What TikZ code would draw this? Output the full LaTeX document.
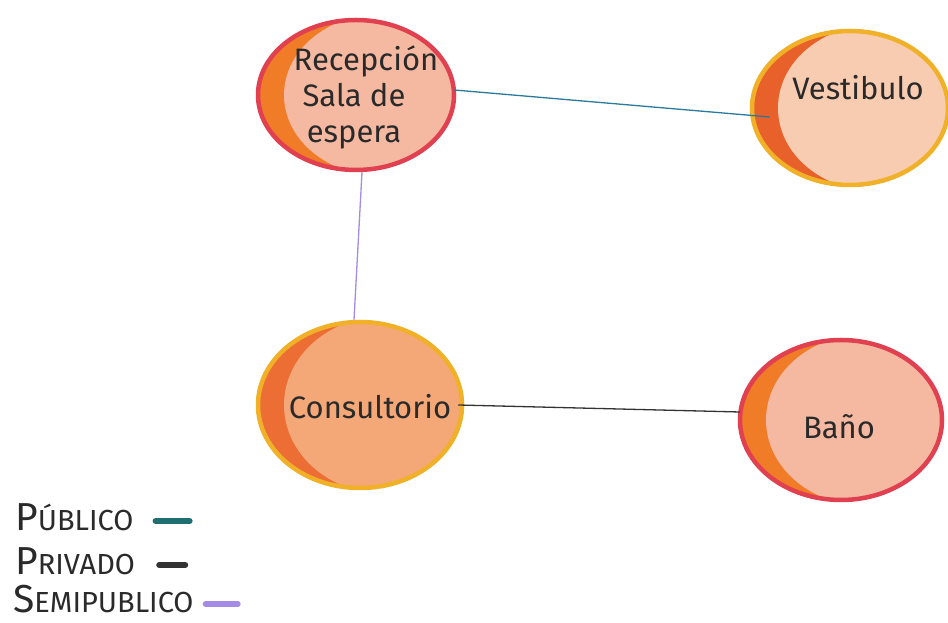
\documentclass[tikz,border=0pt]{standalone}
\usepackage{fontspec}
\setmainfont{Fira Sans}
\usetikzlibrary{shapes.geometric,calc}
\definecolor{redring}{HTML}{E0404F}
\definecolor{yelring}{HTML}{F0B028}
\definecolor{salmon}{HTML}{F5B9A2}
\definecolor{peach}{HTML}{F8CCB0}
\definecolor{orangefill}{HTML}{F4A878}
\definecolor{cresA}{HTML}{F07C28}
\definecolor{cresB}{HTML}{E8602A}
\definecolor{cresC}{HTML}{EC6E34}
\definecolor{pubcol}{HTML}{1F6E72}
\definecolor{bluecon}{HTML}{2A7A9A}
\definecolor{privcol}{HTML}{333333}
\definecolor{semicol}{HTML}{A48CE6}
\definecolor{ink}{HTML}{2A2A2A}
\tikzset{
  room/.style n args={5}{ellipse, draw=#1, line width=4.5pt, fill=#3,
    minimum width=#4, minimum height=#5, inner sep=0pt,
    path picture={\fill[#2] ([xshift=26pt]path picture bounding box.center)
      ellipse [x radius=0.5*#4, y radius=0.5*#5+6pt];}},
  roomtext/.style={align=center, text=ink, inner sep=0pt,
    font=\fontsize{31}{36}\selectfont},
  conn/.style={line width=1.3pt},
  legtext/.style={anchor=west, inner sep=0pt, text=ink},
  legbar/.style={line width=6pt, line cap=round}
}
\newcommand{\legbig}{\fontsize{39}{39}\selectfont}
\newcommand{\legsmall}{\fontsize{29}{29}\selectfont}
\begin{document}
\begin{tikzpicture}[x=1pt,y=1pt]
\useasboundingbox (0,0) rectangle (948,623);
\fill[white] (0,0) rectangle (948,623);
% rooms
\node[room={redring}{salmon}{cresA}{196pt}{150pt}] (rec) at (356,528) {};
\node[room={yelring}{peach}{cresB}{196pt}{154pt}] (ves) at (850,515) {};
\node[room={yelring}{orangefill}{cresC}{204pt}{166pt}] (con) at (360,218) {};
\node[room={redring}{salmon}{cresA}{202pt}{160pt}] (ban) at (841,203) {};
% room labels
\node[roomtext] (rect) at ($(rec.center)+(-2,-2)$)
  {\hspace*{24pt}Recepción\\Sala de\\espera};
\node[roomtext] (vest) at ($(ves.center)+(8,20)$) {Vestibulo};
\node[roomtext] (cont) at ($(con.center)+(10,-2)$) {Consultorio};
\node[roomtext] (bant) at ($(ban.center)+(-2,-7)$) {Baño};
% connectors
\draw[conn, bluecon] ($(rec.east)+(-2,5)$) -- ($(ves.west)+(20,-9)$);
\draw[conn, semicol] ($(rec.south)+(6,0)$) -- ($(con.north)+(-6,0)$);
\draw[conn, privcol] ($(con.east)+(-6,0)$) -- ($(ban.west)+(2,8)$);
% legend
\node[legtext] (pub) at (15,106) {{\legbig P}{\legsmall ÚBLICO}};
\node[legtext] (pri) at (15,62) {{\legbig P}{\legsmall RIVADO}};
\node[legtext] (sem) at (13,24) {{\legbig S}{\legsmall EMIPUBLICO}};
\draw[legbar, pubcol] ($(pub.east)+(22,-4)$) -- ++(34,0);
\draw[legbar, privcol] ($(pri.east)+(24,-4)$) -- ++(26,0);
\draw[legbar, semicol] ($(sem.east)+(12,-5)$) -- ++(32,0);
\end{tikzpicture}
\end{document}
